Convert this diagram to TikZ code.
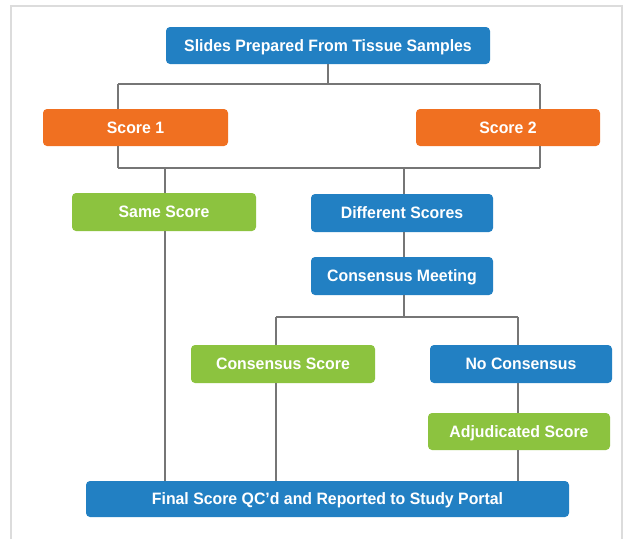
\documentclass[tikz,border=0pt]{standalone}
\usepackage{fontspec}
\setmainfont{Liberation Sans}
\newfontfamily\boxfont[FakeStretch=0.96]{Liberation Sans}
\definecolor{cblue}{HTML}{2280C3}
\definecolor{corange}{HTML}{F07021}
\definecolor{cgreen}{HTML}{8CC33F}
\definecolor{cline}{HTML}{767676}
\definecolor{cframe}{HTML}{DCDCDC}
\begin{document}
\begin{tikzpicture}[x=1pt,y=-1pt,
  box/.style={rounded corners=4pt, inner sep=0pt, text=white, font=\boxfont\fontsize{16.5}{18}\selectfont\bfseries, minimum height=37pt, text height=11.8pt, text depth=0pt},
  bluebox/.style={box, fill=cblue},
  orangebox/.style={box, fill=corange},
  greenbox/.style={box, fill=cgreen},
  conn/.style={draw=cline, line width=2.3pt}]
\useasboundingbox (0,0) rectangle (629,538);
\fill[white] (0,0) rectangle (629,538);
\draw[cframe, line width=2pt] (11,540) -- (11,6) -- (622,6) -- (622,540);

\node[bluebox, minimum width=324pt] (top) at (328,45.5) {Slides Prepared From Tissue Samples};
\node[orangebox, minimum width=185pt] (s1) at (135.5,127.5) {Score 1};
\node[orangebox, minimum width=184pt] (s2) at (508,127.5) {Score 2};
\node[greenbox, minimum width=184pt, minimum height=38pt] (same) at (164,212) {Same Score};
\node[bluebox, minimum width=182pt, minimum height=38pt] (diff) at (402,213) {Different Scores};
\node[bluebox, minimum width=182pt, minimum height=38pt] (meet) at (402,276) {Consensus Meeting};
\node[greenbox, minimum width=184pt, minimum height=38pt] (cscore) at (283,364) {Consensus Score};
\node[bluebox, minimum width=182pt, minimum height=38pt] (nocons) at (521,364) {No Consensus};
\node[greenbox, minimum width=182pt] (adj) at (519,431.5) {Adjudicated Score};
\node[bluebox, minimum width=483pt, minimum height=36pt] (final) at (327.5,499) {Final Score QC’d and Reported to Study Portal};

\coordinate (a1) at (118,84);
\coordinate (a2) at (540,84);
\coordinate (b1) at (118,168);
\coordinate (b2) at (540,168);
\coordinate (bl) at (165,168);
\coordinate (br) at (404,168);
\coordinate (c1) at (276,317);
\coordinate (c2) at (518,317);

\draw[conn] (top.south) -- (top.south |- a1);
\draw[conn] (a1) -- (a2);
\draw[conn] (a1) -- (a1 |- s1.north);
\draw[conn] (a2) -- (a2 |- s2.north);
\draw[conn] (b1 |- s1.south) -- (b1);
\draw[conn] (b2 |- s2.south) -- (b2);
\draw[conn] (b1) -- (b2);
\draw[conn] (bl) -- (bl |- same.north);
\draw[conn] (br) -- (br |- diff.north);
\draw[conn] (bl |- same.south) -- (bl |- final.north);
\draw[conn] (br |- diff.south) -- (br |- meet.north);
\draw[conn] (br |- meet.south) -- (br |- c1);
\draw[conn] (c1) -- (c2);
\draw[conn] (c1) -- (c1 |- cscore.north);
\draw[conn] (c2) -- (c2 |- nocons.north);
\draw[conn] (c1 |- cscore.south) -- (c1 |- final.north);
\draw[conn] (c2 |- nocons.south) -- (c2 |- adj.north);
\draw[conn] (c2 |- adj.south) -- (c2 |- final.north);
\end{tikzpicture}
\end{document}
